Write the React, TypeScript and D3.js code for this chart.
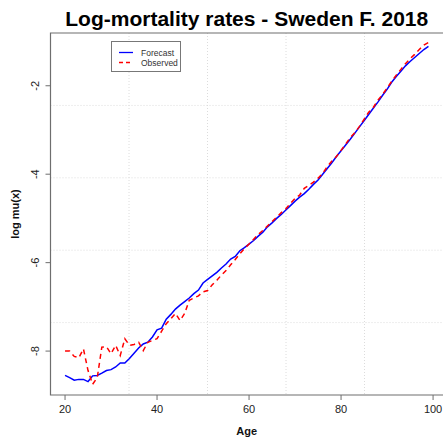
import React from "react";
import * as d3 from "d3";

const ages: number[] = d3.range(20, 100);

const forecast: number[] = [
  -8.55, -8.6, -8.66, -8.64, -8.64, -8.69, -8.56, -8.55, -8.5, -8.44,
  -8.42, -8.36, -8.27, -8.27, -8.17, -8.05, -7.93, -7.84, -7.8, -7.68,
  -7.52, -7.48, -7.28, -7.17, -7.05, -6.96, -6.88, -6.8, -6.7, -6.62,
  -6.46, -6.38, -6.3, -6.22, -6.12, -6.03, -5.92, -5.86, -5.73, -5.66,
  -5.58, -5.5, -5.4, -5.31, -5.19, -5.1, -5.0, -4.91, -4.81, -4.71,
  -4.61, -4.52, -4.44, -4.34, -4.23, -4.13, -4.0, -3.87, -3.74, -3.6,
  -3.47, -3.34, -3.21, -3.07, -2.93, -2.79, -2.65, -2.51, -2.37, -2.22,
  -2.08, -1.92, -1.79, -1.67, -1.55, -1.45, -1.36, -1.27, -1.18, -1.11,
];

const observed: number[] = [
  -8.0, -8.0, -8.12, -8.15, -7.95, -8.44, -8.75, -8.6, -7.91, -7.9,
  -8.06, -7.87, -8.1, -7.72, -7.87, -7.85, -7.8, -7.99, -7.8, -7.76,
  -7.72, -7.55, -7.38, -7.27, -7.15, -7.31, -7.15, -6.85, -6.8, -6.75,
  -6.66, -6.63, -6.5, -6.4, -6.28, -6.18, -6.05, -5.93, -5.8, -5.68,
  -5.58, -5.47, -5.36, -5.27, -5.17, -5.07, -4.97, -4.87, -4.78, -4.66,
  -4.55, -4.47, -4.32, -4.25, -4.18, -4.09, -3.98, -3.83, -3.7, -3.6,
  -3.46, -3.32, -3.17, -3.06, -2.92, -2.76, -2.6, -2.49, -2.33, -2.2,
  -2.05, -1.9, -1.76, -1.63, -1.5, -1.39, -1.29, -1.18, -1.08, -1.02,
];

const xTicks: number[] = [20, 40, 60, 80, 100];
const yTicks: number[] = [-8, -6, -4, -2];
const seriesNames: string[] = ["Forecast", "Observed"];
const seriesColors: string[] = ["#0000ff", "#ff0000"];

const W = 443;
const H = 442;
const plot = { left: 50.5, top: 33, right: 443, bottom: 395 };

// R-style 4% padding around the data range
function padded(ext: [number, number]): [number, number] {
  const d = (ext[1] - ext[0]) * 0.04;
  return [ext[0] - d, ext[1] + d];
}

export default function App() {
  const xDom = padded(d3.extent(ages) as [number, number]);
  const yDom = padded(d3.extent(forecast) as [number, number]);
  const x = d3.scaleLinear().domain(xDom).range([plot.left, plot.right]);
  const y = d3.scaleLinear().domain(yDom).range([plot.bottom, plot.top]);

  const line = d3
    .line<number>()
    .x((_, i) => x(ages[i]))
    .y((v) => y(v));

  const gridX = d3.range(1, 5).map((i) => plot.left + ((plot.right - plot.left) * i) / 5);
  const gridY = d3.range(1, 5).map((i) => plot.top + ((plot.bottom - plot.top) * i) / 5);
  const axisColor = "#6e6e6e";
  const font = "Arial, 'Liberation Sans', Helvetica, sans-serif";

  return (
    <svg
      width={W}
      height={H}
      style={{ position: "absolute", left: 0, top: 0, display: "block", background: "#fff" }}
      fontFamily={font}
    >
      <rect x={0} y={0} width={W} height={H} fill="#fff" />
      <text
        x={(plot.left + plot.right) / 2}
        y={26}
        textAnchor="middle"
        fontWeight="bold"
        fontSize={21}
        fill="#000"
      >
        Log-mortality rates - Sweden F. 2018
      </text>

      {/* grid */}
      {gridX.map((gx) => (
        <line key={"gx" + gx} x1={gx} x2={gx} y1={plot.top} y2={plot.bottom}
          stroke="#dcdcdc" strokeWidth={1} strokeDasharray="1,2" />
      ))}
      {gridY.map((gy) => (
        <line key={"gy" + gy} x1={plot.left} x2={plot.right} y1={gy} y2={gy}
          stroke="#dcdcdc" strokeWidth={1} strokeDasharray="1,2" />
      ))}

      {/* series */}
      <path d={line(forecast) || ""} fill="none" stroke={seriesColors[0]} strokeWidth={1.5} />
      <path d={line(observed) || ""} fill="none" stroke={seriesColors[1]} strokeWidth={1.5}
        strokeDasharray="5,4" />

      {/* box */}
      <path
        d={`M${plot.right},${plot.top}H${plot.left}V${plot.bottom}H${plot.right}`}
        fill="none" stroke={axisColor} strokeWidth={1.2} />

      {/* x axis */}
      {xTicks.map((t) => (
        <g key={"xt" + t}>
          <line x1={x(t)} x2={x(t)} y1={plot.bottom} y2={plot.bottom + 5} stroke={axisColor} />
          <text x={x(t)} y={413} textAnchor="middle" fontSize={11} fill="#222">{t}</text>
        </g>
      ))}
      <text x={(plot.left + plot.right) / 2} y={435} textAnchor="middle" fontSize={11}
        fontWeight="bold" fill="#111">Age</text>

      {/* y axis */}
      {yTicks.map((t) => (
        <g key={"yt" + t}>
          <line x1={plot.left - 5} x2={plot.left} y1={y(t)} y2={y(t)} stroke={axisColor} />
          <text transform={`translate(39,${y(t)}) rotate(-90)`} textAnchor="middle"
            fontSize={11} fill="#222">{t}</text>
        </g>
      ))}
      <text transform={`translate(19,${(plot.top + plot.bottom) / 2}) rotate(-90)`}
        textAnchor="middle" fontSize={11} fontWeight="bold" fill="#111">log mu(x)</text>

      {/* legend */}
      <g>
        <rect x={111.5} y={41.5} width={69} height={30} fill="#fff" stroke="#777" strokeWidth={1} />
        {seriesNames.map((name, i) => (
          <g key={name}>
            <line x1={119} x2={133} y1={52.5 + i * 10} y2={52.5 + i * 10}
              stroke={seriesColors[i]} strokeWidth={1.3}
              strokeDasharray={i === 1 ? "4,3" : undefined} />
            <text x={141} y={55.5 + i * 10} fontSize={8.5} fill="#333">{name}</text>
          </g>
        ))}
      </g>
    </svg>
  );
}
